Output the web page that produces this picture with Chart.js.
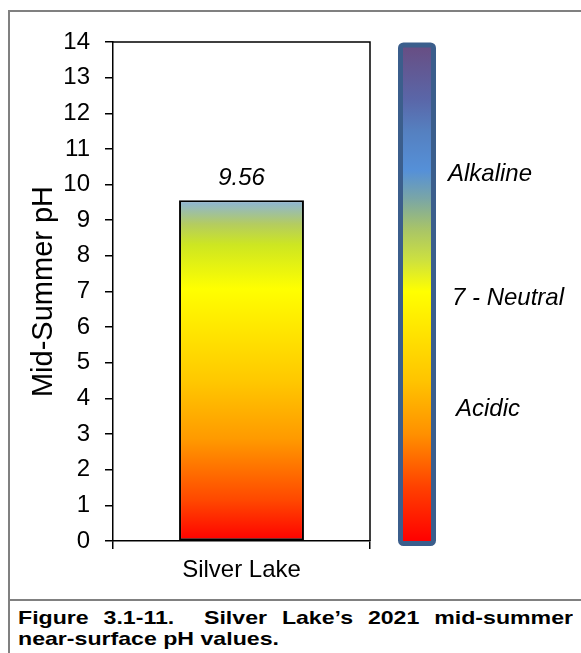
<!DOCTYPE html>
<html>
<head>
<meta charset="utf-8">
<script src="https://cdn.jsdelivr.net/npm/chart.js@4"></script>
<style>
body { margin: 0; background: #fff; font-family: "Liberation Sans", Arial, sans-serif; }
#wrap { position: relative; width: 581px; height: 653px; overflow: hidden; }
#frame { position: absolute; left: 8px; top: 10px; width: 620px; height: 700px; border-top: 2px solid #808080; border-left: 2px solid #808080; }
#sep { position: absolute; left: 8px; top: 599px; width: 620px; border-top: 2px solid #808080; }
#chart { position: absolute; left: 0; top: 0; }
#caption { position: absolute; left: 18px; top: 607px; width: 444px; font-weight: bold; font-size: 18.5px; line-height: 21px; color: #000;
           transform: scaleX(1.25); transform-origin: 0 0; }
#caption .l1 { text-align: justify; text-align-last: justify; white-space: nowrap; }
</style>
</head>
<body>
<div id="wrap">
  <div id="frame"></div>
  <div id="sep"></div>
  <canvas id="chart" width="581" height="600"></canvas>
  <div id="caption">
    <div class="l1">Figure 3.1-11.&nbsp; Silver Lake’s 2021 mid-summer</div>
    <div>near-surface pH values.</div>
  </div>
</div>
<script>
const FONT = '"Liberation Sans", Arial, sans-serif';

const categories = ['Silver Lake'];
const phValues = [9.56];
const yRange = [0, 14];
const scaleLabels = ['Alkaline', '7 - Neutral', 'Acidic'];
const scaleLabelPH = [10.3, 6.8, 3.7];

// gradient inside the bar (fraction of bar height, colour)
const barStops = [
    [0, '#ff0000'], [0.12, '#ff4800'], [0.3, '#ff9a00'], [0.47, '#ffc800'],
    [0.74, '#ffff00'], [0.87, '#cde622'], [0.93, '#b4cc60'], [0.96, '#a2c296'], [1, '#8cb4dc']
];
// gradient of the pH colour bar (pH, colour)
const scaleStops = [
    [0, '#ff0000'], [1.5, '#ff4000'], [3, '#ff9000'], [4.5, '#ffc400'], [7, '#ffff00'],
    [7.9, '#cce040'], [8.75, '#a8c468'], [9.6, '#7aa6a6'], [10.4, '#5590d8'],
    [11.5, '#5580c0'], [12.4, '#5a66a8'], [14, '#694c80']
];

Chart.defaults.font.family = FONT;
Chart.defaults.color = '#000';

const decor = {
    id: 'decor',
    afterDatasetsDraw(chart) {
        const { ctx, chartArea: a, scales: { y } } = chart;
        ctx.save();
        // top and right frame of the plot
        ctx.strokeStyle = '#000';
        ctx.lineWidth = 1.5;
        ctx.beginPath();
        ctx.moveTo(a.left, a.top);
        ctx.lineTo(a.right, a.top);
        ctx.lineTo(a.right, a.bottom);
        ctx.stroke();

        // value label
        const meta = chart.getDatasetMeta(0);
        ctx.font = 'italic 24px ' + FONT;
        ctx.fillStyle = '#000';
        ctx.textAlign = 'center';
        ctx.textBaseline = 'alphabetic';
        meta.data.forEach((el, i) => ctx.fillText(phValues[i].toFixed(2), el.x, el.y - 15));

        // pH colour bar
        const y0 = y.getPixelForValue(yRange[0]);
        const y1 = y.getPixelForValue(yRange[1]);
        const g = ctx.createLinearGradient(0, y0, 0, y1);
        scaleStops.forEach(([p, c]) => g.addColorStop(p / yRange[1], c));
        const bx = a.right + 30.5;
        ctx.fillStyle = g;
        ctx.fillRect(bx, y1 + 3, 33, y0 - y1);
        ctx.strokeStyle = '#3b5e8c';
        ctx.lineWidth = 5;
        ctx.beginPath();
        ctx.roundRect(bx, y1 + 3, 33, y0 - y1 - 0.5, 3);
        ctx.stroke();

        // colour bar labels
        const indent = [12, 16, 20];
        ctx.font = 'italic 24px ' + FONT;
        ctx.fillStyle = '#000';
        ctx.textAlign = 'left';
        ctx.textBaseline = 'middle';
        scaleLabels.forEach((t, i) => ctx.fillText(t, a.right + 66 + indent[i], y.getPixelForValue(scaleLabelPH[i])));
        ctx.restore();
    }
};

new Chart(document.getElementById('chart'), {
    type: 'bar',
    data: {
        labels: categories,
        datasets: [{
            data: phValues,
            backgroundColor: ctx => {
                const { chart } = ctx;
                if (!chart.chartArea) return '#ffff00';
                const ys = chart.scales.y;
                const g = chart.ctx.createLinearGradient(0, ys.getPixelForValue(0), 0, ys.getPixelForValue(phValues[ctx.dataIndex]));
                barStops.forEach(([p, c]) => g.addColorStop(p, c));
                return g;
            },
            borderColor: '#000',
            borderWidth: 2,
            borderSkipped: false,
            categoryPercentage: 1,
            barPercentage: 0.486
        }]
    },
    options: {
        responsive: false,
        animation: false,
        layout: { padding: { left: 0, top: 42, right: 211, bottom: 0 } },
        plugins: { legend: { display: false }, tooltip: { enabled: false } },
        scales: {
            x: {
                ticks: { font: { size: 24 }, padding: 7 },
                grid: { drawOnChartArea: false, offset: true, tickLength: 8, color: '#000', lineWidth: 1.5 },
                border: { color: '#000', width: 1.5 },
                afterFit: s => { s.height = 59; }
            },
            y: {
                min: yRange[0],
                max: yRange[1],
                ticks: { stepSize: 1, font: { size: 24 }, padding: 15 },
                grid: { drawOnChartArea: false, tickLength: 8, color: '#000', lineWidth: 1.5 },
                border: { color: '#000', width: 1.5 },
                title: { display: true, text: 'Mid-Summer pH', font: { size: 29 }, padding: { top: 27 } },
                afterFit: s => { s.width = 113; }
            }
        }
    },
    plugins: [decor]
});
</script>
</body>
</html>
